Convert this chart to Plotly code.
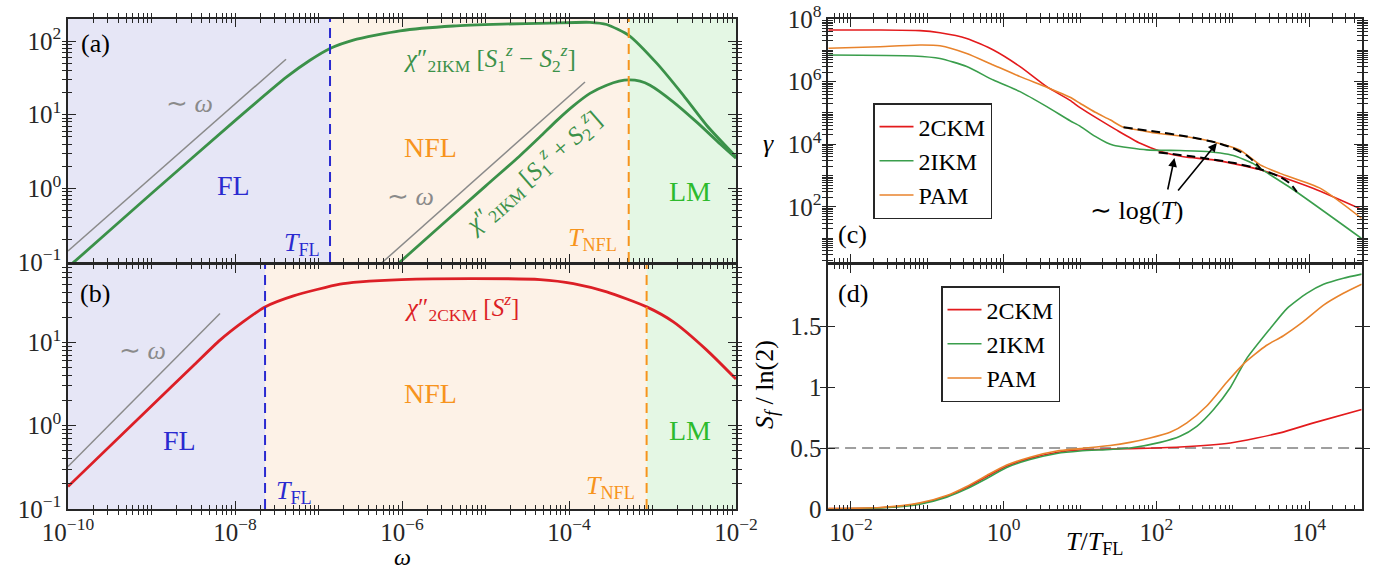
import numpy as np
import plotly.graph_objects as go

W, H = 1385, 570
FONT = "Liberation Serif"

# ---------------- data (log10 values) ----------------
# Panel (a): chi''_2IKM
a_diff_logw = [-10.0, -9.916, -9.0, -8.0, -7.381, -7.102, -6.862, -6.583, -6.024, -5.386,
               -4.8, -4.228, -3.749, -3.549, -3.281, -2.95, -2.63, -2.35, -2.0]
a_diff_logchi = [-1.07, -0.988, -0.07, 0.92, 1.513, 1.74, 1.90, 2.014, 2.14, 2.205,
                 2.23, 2.245, 2.255, 2.225, 2.075, 1.70, 1.263, 0.854, 0.43]
a_sum_logw = [-6.1, -6.024, -5.0, -4.6, -4.347, -4.147, -3.948, -3.749, -3.549, -3.40,
              -3.281, -3.15, -3.03, -2.749, -2.47, -2.19, -2.0]
a_sum_logchi = [-1.08, -1.0, 0.03, 0.43, 0.70, 0.92, 1.12, 1.29, 1.40, 1.455,
                1.472, 1.455, 1.40, 1.172, 0.899, 0.604, 0.41]
a_grey1_logw = [-10.0, -7.389]
a_grey1_logchi = [-0.851, 1.754]
a_grey2_logw = [-6.25, -3.808]
a_grey2_logchi = [-1.02, 1.445]
a_TFL, a_TNFL = 1.374e-7, 5.19e-4

# Panel (b): chi''_2CKM
b_logw = [-10.0, -9.0, -8.5, -8.18, -7.9, -7.641, -7.3, -6.743, -6.503, -6.009,
          -5.146, -4.347, -3.948, -3.548, -3.07, -2.75, -2.35, -2.0]
b_logchi = [-0.731, 0.236, 0.72, 1.028, 1.25, 1.427, 1.56, 1.70, 1.727, 1.755,
            1.767, 1.755, 1.707, 1.607, 1.427, 1.247, 0.908, 0.56]
b_grey_logw = [-10.0, -8.18]
b_grey_logchi = [-0.49, 1.348]
b_TFL, b_TNFL = 2.29e-8, 8.5e-4

# Panel (c): gamma vs T/T_FL
c_ckm_logT = [-2.297, -1.62, -1.096, -0.834, -0.484, -0.135, 0.215, 0.565, 0.87, 1.0,
              1.263, 1.482, 1.788, 2.05, 2.355, 2.75, 3.34, 4.06, 4.69]
c_ckm_logg = [7.649, 7.65, 7.63, 7.56, 7.38, 7.01, 6.48, 5.84, 5.40, 5.17,
              4.77, 4.45, 4.03, 3.78, 3.60, 3.50, 3.20, 2.59, 1.92]
c_ikm_logT = [-2.297, -1.18, -0.834, -0.484, -0.135, 0.215, 0.565, 0.87, 1.0, 1.2,
              1.35, 1.438, 1.875, 2.31, 2.66, 2.84, 3.01, 3.14, 3.27, 3.36, 3.80, 4.69]
c_ikm_logg = [6.85, 6.82, 6.74, 6.48, 6.05, 5.68, 5.20, 4.75, 4.58, 4.25,
              4.05, 3.97, 3.82, 3.80, 3.77, 3.72, 3.64, 3.52, 3.38, 3.23, 2.54, 0.99]
c_pam_logT = [-2.297, -1.62, -1.096, -0.834, -0.484, -0.135, 0.215, 0.565, 0.87, 1.0,
              1.2, 1.394, 1.57, 1.8, 2.007, 2.40, 2.79, 3.10, 3.36, 3.62, 4.15, 4.69]
c_pam_logg = [7.064, 7.115, 7.17, 7.147, 6.90, 6.53, 6.16, 5.82, 5.50, 5.31,
              5.02, 4.78, 4.54, 4.44, 4.35, 4.24, 4.05, 3.81, 3.34, 3.07, 2.59, 1.63]
c_fit1_logT = [1.57, 2.0, 2.4, 2.79, 3.0, 3.18, 3.30, 3.36]
c_fit1_logg = [4.54, 4.40, 4.25, 4.05, 3.88, 3.65, 3.40, 3.23]
c_fit2_logT = [2.03, 2.5, 3.0, 3.36, 3.62, 3.75, 3.84]
c_fit2_logg = [3.74, 3.60, 3.41, 3.20, 2.96, 2.75, 2.48]

# Panel (d): S_f / ln 2
d_logT_low = [-2.297, -1.62, -1.096, -0.746, -0.484, -0.222, 0.04, 0.346, 0.696, 1.0, 1.394]
d_ckm_logT = d_logT_low + [1.656, 2.31, 2.97, 3.62, 4.06, 4.69]
d_ckm_S = [0.003, 0.01, 0.045, 0.105, 0.175, 0.265, 0.35, 0.415, 0.463, 0.483, 0.492,
           0.495, 0.508, 0.541, 0.624, 0.706, 0.816]
d_ikm_logT = d_logT_low + [1.656, 2.05, 2.31, 2.53, 2.75, 2.97, 3.18, 3.49, 3.71, 3.97,
                           4.19, 4.45, 4.69]
d_ikm_S = [0.002, 0.008, 0.04, 0.097, 0.165, 0.25, 0.34, 0.405, 0.455, 0.475, 0.488,
           0.50, 0.546, 0.596, 0.678, 0.816, 0.996, 1.23, 1.478, 1.643, 1.768,
           1.842, 1.892, 1.925]
d_pam_logT = d_logT_low + [1.656, 1.918, 2.18, 2.40, 2.66, 2.92, 3.14, 3.44, 3.66, 3.92,
                           4.19, 4.45, 4.69]
d_pam_S = [0.003, 0.012, 0.05, 0.11, 0.185, 0.275, 0.36, 0.425, 0.475, 0.495, 0.52,
           0.546, 0.582, 0.629, 0.706, 0.844, 1.037, 1.188, 1.34, 1.418, 1.533,
           1.671, 1.768, 1.842]

# ---------------- styling ----------------
GREEN_A = "#3b9149"
RED_B = "#dc1f26"
GREY = "#8a8a8a"
C_RED, C_GREEN, C_ORANGE = "#e31a1c", "#3a9e4c", "#e8832c"
FL_BG, NFL_BG, LM_BG = "#e6e6f6", "#fdf2e7", "#e4f7e4"
FL_C, NFL_C, LM_C = "#2a2ad0", "#f7941d", "#2dbb2d"
AX_C = "#262626"


def p(v):
    return 10 ** np.asarray(v, dtype=float)


def px(x):
    return x / W


def py(y):
    return 1 - y / H


fig = go.Figure()


def line(x, y, color, width, xa, ya, dash=None, name=None, legend=None, showlegend=False):
    fig.add_trace(go.Scatter(x=x, y=y, mode="lines", name=name,
                             line=dict(color=color, width=width, dash=dash, shape="spline", smoothing=0.6),
                             xaxis=xa, yaxis=ya, showlegend=showlegend,
                             legend=legend, hoverinfo="skip"))


# (a)
line(p(a_grey1_logw), p(a_grey1_logchi), GREY, 1.5, "x", "y")
line(p(a_grey2_logw), p(a_grey2_logchi), GREY, 1.5, "x", "y")
line(p(a_diff_logw), p(a_diff_logchi), GREEN_A, 2.8, "x", "y")
line(p(a_sum_logw), p(a_sum_logchi), GREEN_A, 2.8, "x", "y")
# (b)
line(p(b_grey_logw), p(b_grey_logchi), GREY, 1.5, "x2", "y2")
line(p(b_logw), p(b_logchi), RED_B, 2.8, "x2", "y2")
# (c)
line(p(c_ckm_logT), p(c_ckm_logg), C_RED, 1.6, "x3", "y3", name="2CKM", legend="legend", showlegend=True)
line(p(c_ikm_logT), p(c_ikm_logg), C_GREEN, 1.6, "x3", "y3", name="2IKM", legend="legend", showlegend=True)
line(p(c_pam_logT), p(c_pam_logg), C_ORANGE, 1.6, "x3", "y3", name="PAM", legend="legend", showlegend=True)
line(p(c_fit1_logT), p(c_fit1_logg), "black", 2, "x3", "y3", dash="9px,5px")
line(p(c_fit2_logT), p(c_fit2_logg), "black", 2, "x3", "y3", dash="9px,5px")
# (d)
fig.add_trace(go.Scatter(x=p([-2.3, 4.7]), y=[0.5, 0.5], mode="lines",
                         line=dict(color="#808080", width=1.5, dash="11px,6px"),
                         xaxis="x4", yaxis="y4", showlegend=False, hoverinfo="skip"))
line(p(d_ckm_logT), d_ckm_S, C_RED, 1.6, "x4", "y4", name="2CKM", legend="legend2", showlegend=True)
line(p(d_ikm_logT), d_ikm_S, C_GREEN, 1.6, "x4", "y4", name="2IKM", legend="legend2", showlegend=True)
line(p(d_pam_logT), d_pam_S, C_ORANGE, 1.6, "x4", "y4", name="PAM", legend="legend2", showlegend=True)

# ---------------- axes ----------------
def sup(e):
    s = str(e).replace("-", "−")
    return f"10<sup>{s}</sup>"


def minor_vals(lo, hi, majors):
    vals = []
    for n in range(lo, hi + 1):
        for k in range(1, 10):
            v = k * 10.0 ** n
            if not any(abs(v - m) / m < 1e-9 for m in majors):
                vals.append(v)
    return vals


def logticks(majors, labels, lo, hi):
    """major ticks labelled, minor ticks (2..9 and unlabelled decades) blank."""
    mins = minor_vals(lo, hi, majors)
    return dict(tickvals=list(majors) + mins, ticktext=list(labels) + [""] * len(mins))


tickfont = dict(family=FONT, size=25, color=AX_C)
common = dict(showline=True, linecolor=AX_C, linewidth=1.5, mirror="allticks",
              ticks="inside", ticklen=4.5, tickwidth=1.1, tickcolor=AX_C, automargin=False,
              showgrid=False, zeroline=False, tickfont=tickfont, tickmode="array")

XL = [68 / W, 736 / W]
XR = [828.3 / W, 1361.7 / W]
YT = [py(262), py(19)]
YB = [py(509), py(265)]

xl_major = [1e-10, 1e-8, 1e-6, 1e-4, 1e-2]
xr_major = [1e-2, 1, 1e2, 1e4]
ya_major = [1e-1, 1, 1e1, 1e2]
yb_major = [1e-1, 1, 1e1]
yc_major = [1e2, 1e4, 1e6, 1e8]

XL_RANGE = [-10, -2]
XR_RANGE = [-2.297, 4.69]
YA_RANGE = [-1, 2.3]
YB_RANGE = [-1, 1.93]
YC_RANGE = [0.24, 8]

xl_text = [sup(-10), sup(-8), sup(-6), sup(-4), sup(-2)]
xr_text = [sup(-2), sup(0), sup(2), sup(4)]

fig.update_layout(
    xaxis=dict(common, type="log", range=XL_RANGE, domain=XL, anchor="y",
               showticklabels=False, **logticks(xl_major, xl_text, -10, -3)),
    yaxis=dict(common, type="log", range=YA_RANGE, domain=YT, anchor="x",
               **logticks(ya_major, [sup(-1), sup(0), sup(1), sup(2)], -1, 2)),
    xaxis2=dict(common, type="log", range=XL_RANGE, domain=XL, anchor="y2",
                **logticks(xl_major, xl_text, -10, -3)),
    yaxis2=dict(common, type="log", range=YB_RANGE, domain=YB, anchor="x2",
                **logticks(yb_major, [sup(-1), sup(0), sup(1)], -1, 1)),
    xaxis3=dict(common, type="log", range=XR_RANGE, domain=XR, anchor="y3",
                showticklabels=False, **logticks(xr_major, xr_text, -3, 4)),
    yaxis3=dict(common, type="log", range=YC_RANGE, domain=YT, anchor="x3",
                **logticks(yc_major, [sup(2), sup(4), sup(6), sup(8)], 0, 7)),
    xaxis4=dict(common, type="log", range=XR_RANGE, domain=XR, anchor="y4",
                **logticks(xr_major, xr_text, -3, 4)),
    yaxis4=dict(common, range=[0, 2.0], domain=YB, anchor="x4", ticklen=7,
                tickvals=[0, 0.5, 1, 1.5], ticktext=["0", "0.5", "1", "1.5"]),
)

# longer ticks at the labelled decades: overlay axes carrying only those ticks
major_style = dict(type="log", showline=False, showgrid=False, zeroline=False, ticks="inside",
                   ticklen=8, tickwidth=1.2, tickcolor=AX_C, showticklabels=False,
                   mirror="allticks", automargin=False, tickmode="array")
overlays = [
    ("xaxis5", "x", "y", XL_RANGE, XL, xl_major),
    ("xaxis6", "x2", "y2", XL_RANGE, XL, xl_major),
    ("xaxis7", "x3", "y3", XR_RANGE, XR, xr_major),
    ("xaxis8", "x4", "y4", XR_RANGE, XR, xr_major),
    ("yaxis5", "y", "x", YA_RANGE, YT, ya_major),
    ("yaxis6", "y2", "x2", YB_RANGE, YB, yb_major),
    ("yaxis7", "y3", "x3", YC_RANGE, YT, yc_major),
]
for name, over, anc, rng, dom, vals in overlays:
    fig.layout[name] = dict(major_style, overlaying=over, anchor=anc, range=rng,
                            domain=dom, tickvals=vals,
                            side="bottom" if name.startswith("x") else "left")
    short = name.replace("axis", "")
    if name.startswith("x"):
        fig.add_trace(go.Scatter(x=[None], y=[None], xaxis=short, yaxis=anc,
                                 showlegend=False, hoverinfo="skip"))
    else:
        fig.add_trace(go.Scatter(x=[None], y=[None], xaxis=anc, yaxis=short,
                                 showlegend=False, hoverinfo="skip"))

# ---------------- region shading and guide lines ----------------
shapes = []


def region(xref, yref, x0, x1, color):
    shapes.append(dict(type="rect", xref=xref, yref=yref + " domain", x0=x0, x1=x1, y0=0, y1=1,
                       fillcolor=color, line=dict(width=0), layer="below"))


def vline(xref, yref, x, color):
    shapes.append(dict(type="line", xref=xref, yref=yref + " domain", x0=x, x1=x, y0=0, y1=1,
                       line=dict(color=color, width=2, dash="10px,6px"), layer="above"))


region("x", "y", 1e-10, a_TFL, FL_BG)
region("x", "y", a_TFL, a_TNFL, NFL_BG)
region("x", "y", a_TNFL, 1e-2, LM_BG)
region("x2", "y2", 1e-10, b_TFL, FL_BG)
region("x2", "y2", b_TFL, b_TNFL, NFL_BG)
region("x2", "y2", b_TNFL, 1e-2, LM_BG)
vline("x", "y", a_TFL, FL_C)
vline("x", "y", a_TNFL, NFL_C)
vline("x2", "y2", b_TFL, FL_C)
vline("x2", "y2", b_TNFL, NFL_C)
fig.update_layout(shapes=shapes)

# ---------------- annotations ----------------
anns = []


def txt(t, x, y, color="black", size=26, angle=0, xanchor="center"):
    anns.append(dict(text=t, x=px(x), y=py(y), xref="paper", yref="paper", showarrow=False,
                     font=dict(family=FONT, size=size, color=color), textangle=angle,
                     xanchor=xanchor, yanchor="middle"))


TFL = "<i>T</i><sub>FL</sub>"
TNFL = "<i>T</i><sub>NFL</sub>"
OMEGA = "∼ <i>ω</i>"
# (a)
txt("(a)", 95, 43)
txt(OMEGA, 189, 103, GREY)
txt("FL", 234, 185, FL_C, 28)
txt(TFL, 302, 244, FL_C)
txt("NFL", 430, 147, NFL_C, 28)
txt("<i>χ</i>″<sub>2IKM</sub> [<i>S</i><sub>1</sub><sup><i>z</i></sup> − <i>S</i><sub>2</sub><sup><i>z</i></sup>]",
    490, 58, GREEN_A, 25)
txt("<i>χ</i>″<sub>2IKM</sub> [<i>S</i><sub>1</sub><sup><i>z</i></sup> + <i>S</i><sub>2</sub><sup><i>z</i></sup>]",
    533, 172, GREEN_A, 25, angle=-41)
txt(OMEGA, 410, 197, GREY)
txt(TNFL, 592, 239, NFL_C)
txt("LM", 690, 192, LM_C, 28)
# (b)
txt("(b)", 95, 293)
txt(OMEGA, 142, 350, GREY)
txt("FL", 180, 440, FL_C, 28)
txt(TFL, 294, 492, FL_C)
txt("NFL", 430, 393, NFL_C, 28)
txt("<i>χ</i>″<sub>2CKM</sub> [<i>S</i><sup><i>z</i></sup>]", 462, 307, RED_B, 25)
txt(TNFL, 610, 487, NFL_C)
txt("LM", 690, 430, LM_C, 28)
txt("<i>ω</i>", 402, 557, size=24)
# (c)
txt("(c)", 852, 235)
txt("<i>γ</i>", 768, 143)
txt("∼ log(<i>T</i>)", 1137, 210, "black", 26)
# arrows (tips on the dashed fits)
for tip_logT, tip_logg, ax, ay in [(2.237, 3.56, -7, 33), (2.793, 4.04, -40, 49)]:
    anns.append(dict(x=tip_logT, y=tip_logg, xref="x3", yref="y3", ax=ax, ay=ay,
                     axref="pixel", ayref="pixel", text="", showarrow=True, arrowhead=2,
                     arrowsize=1.1, arrowwidth=1.6, arrowcolor="black", standoff=0))
# (d)
txt("(d)", 853, 293)
txt("<i>S</i><sub><i>f</i></sub> / ln(2)", 766, 385, angle=-90)
txt("<i>T</i>/<i>T</i><sub>FL</sub>", 1094, 543)
fig.update_layout(annotations=anns)

# ---------------- legends ----------------
leg = dict(xref="paper", yref="paper", xanchor="left", yanchor="top", bgcolor="white",
           bordercolor=AX_C, borderwidth=1.5, font=dict(family=FONT, size=24, color="black"),
           tracegroupgap=0, itemwidth=34)
fig.update_layout(
    legend=dict(leg, x=px(873), y=py(103)),
    legend2=dict(leg, x=px(941), y=py(286)),
)

fig.update_layout(width=W, height=H, margin=dict(l=0, r=0, t=0, b=0, autoexpand=False),
                  plot_bgcolor="white", paper_bgcolor="white",
                  font=dict(family=FONT, size=25, color="black"))

fig.write_html("out.html")
